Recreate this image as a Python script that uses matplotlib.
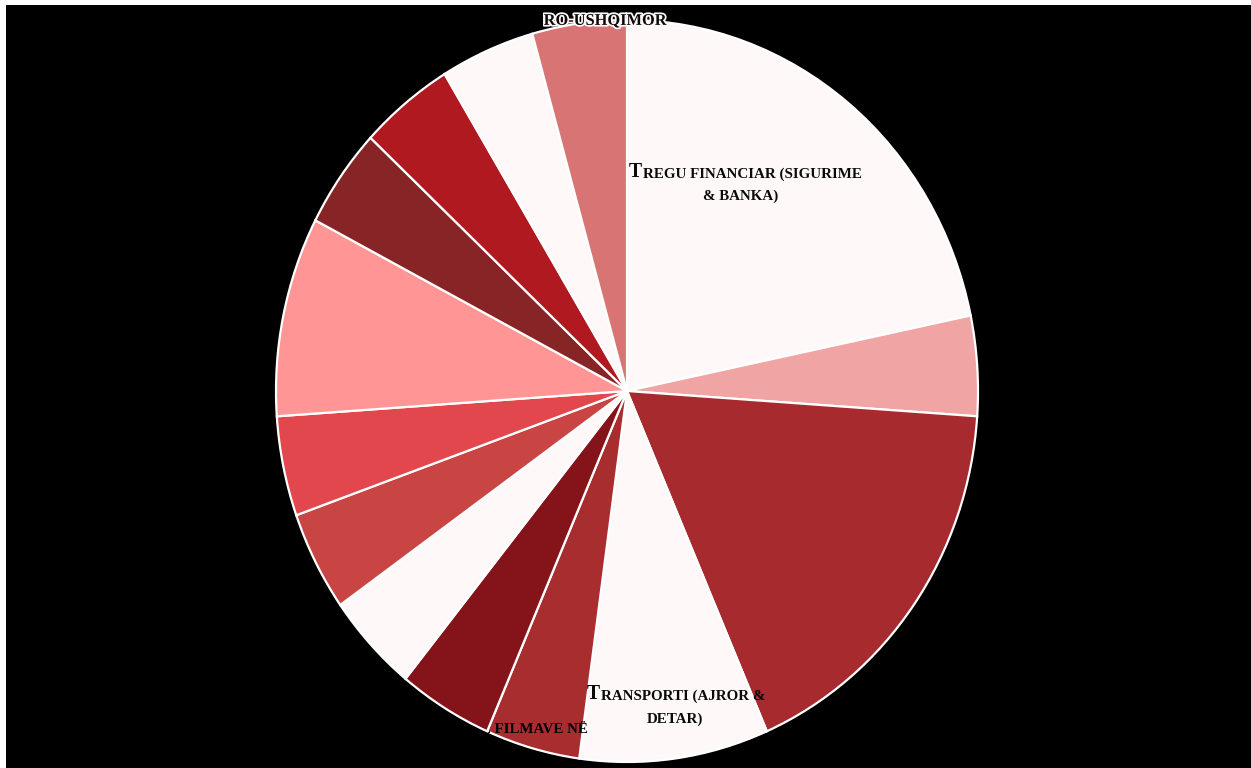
import matplotlib
matplotlib.use("Agg")
import matplotlib.pyplot as plt
import matplotlib.patheffects as pe
from matplotlib.transforms import Bbox

# ---- data (clockwise from 12 o'clock) ----
categories = [
    "Tregu financiar (sigurime & banka)", "Sektor 2", "Sektor 3",
    "Transporti (ajror & detar)", "Industria e filmave në", "Sektor 6",
    "Sektor 7", "Sektor 8", "Sektor 9", "Sektor 10", "Sektor 11",
    "Sektor 12", "Sektor 13", "Agro-ushqimor",
]
values = [5, 1, 4, 2, 1, 1, 1, 1, 1, 2, 1, 1, 1, 1]
colors = ["#fff8f8", "#f0a4a4", "#a62a2e", "#fff8f8", "#a82d2f", "#85141a",
          "#fff8f8", "#c94544", "#e2474e", "#ff9595", "#862426", "#b0191f",
          "#fff8f8", "#d87474"]

W, H = 1251, 768
fig = plt.figure(figsize=(W / 100, H / 100), dpi=100, facecolor="white")
# black plot area: x 6..1251, y 5..768 (pixels, from top)
ax = fig.add_axes([6 / W, 0, (W - 6) / W, (H - 5) / H])
ax.set_facecolor("black")

CX, CY, RX, RY = 627, 391, 351, 371


def X(x):
    return (x - CX) / RX


def Y(y):
    return (CY - y) / RY


wedges, _ = ax.pie(values, colors=colors, startangle=90, counterclock=False,
                   radius=1.0, center=(0, 0),
                   wedgeprops=dict(edgecolor="white", linewidth=1.6))
for i, w in enumerate(wedges):
    w.set_zorder(2 + i)

ax.set_aspect("auto")
ax.set_xlim(X(6), X(W))
ax.set_ylim(Y(H), Y(5))
ax.set_axis_off()
bg = plt.Rectangle((0, 0), 1, 1, transform=ax.transAxes, color="black", zorder=0)
ax.add_patch(bg)

TXT = "#0a0a0a"
FONT = "Liberation Serif"
BIG, SMALL = 14.2, 10.8


def sc_line(x, y, first, rest, z, big=BIG, small=SMALL, **kw):
    """small-caps like line: big first letter, rest in smaller capitals"""
    if first:
        t1 = ax.text(X(x), Y(y), first, fontsize=big, fontweight="bold",
                     family=FONT, color=TXT, ha="left", va="baseline",
                     zorder=z, **kw)
        dy = 0.216 * (big - small)
        t2 = ax.annotate(rest.upper(), xy=(1, 0), xycoords=t1,
                         xytext=(0.3, dy), textcoords="offset points",
                         fontsize=small, fontweight="bold", family=FONT,
                         color=TXT, ha="left", va="bottom", zorder=z, **kw)
        return [t1, t2]
    t = ax.text(X(x), Y(y), rest.upper(), fontsize=small, fontweight="bold",
                family=FONT, color=TXT, ha="left", va="baseline", zorder=z, **kw)
    return [t]


# Tregu financiar (slice 0)
sc_line(629, 177, "T", "regu financiar (sigurime", 2.5)
sc_line(703, 200, "", "& banka)", 2.5)

# Transporti (slice 3)
sc_line(587, 699, "T", "ransporti (ajror &", 20)
sc_line(647, 723, "", "detar)", 20)

# Industria e filmave në (slice 4) - dark text, invisible over black
ax.text(X(588), Y(733), "INDUSTRIA E FILMAVE NË", fontsize=SMALL,
        fontweight="bold", family=FONT, color="black", ha="right",
        va="baseline", zorder=6.5)

# Agro-ushqimor (slice 13) - partly clipped at the left
ts = sc_line(515, 25, "A", "gro-ushqimor", 16.5, big=15.5, small=11.8)
clip = Bbox.from_extents(543, 0, W, H)
for t in ts:
    t.set_path_effects([pe.withStroke(linewidth=2.5, foreground="#fff8f8")])
    t.set_clip_box(clip)
    t.set_clip_on(True)

fig.savefig("out.png", dpi=100, facecolor="white")
